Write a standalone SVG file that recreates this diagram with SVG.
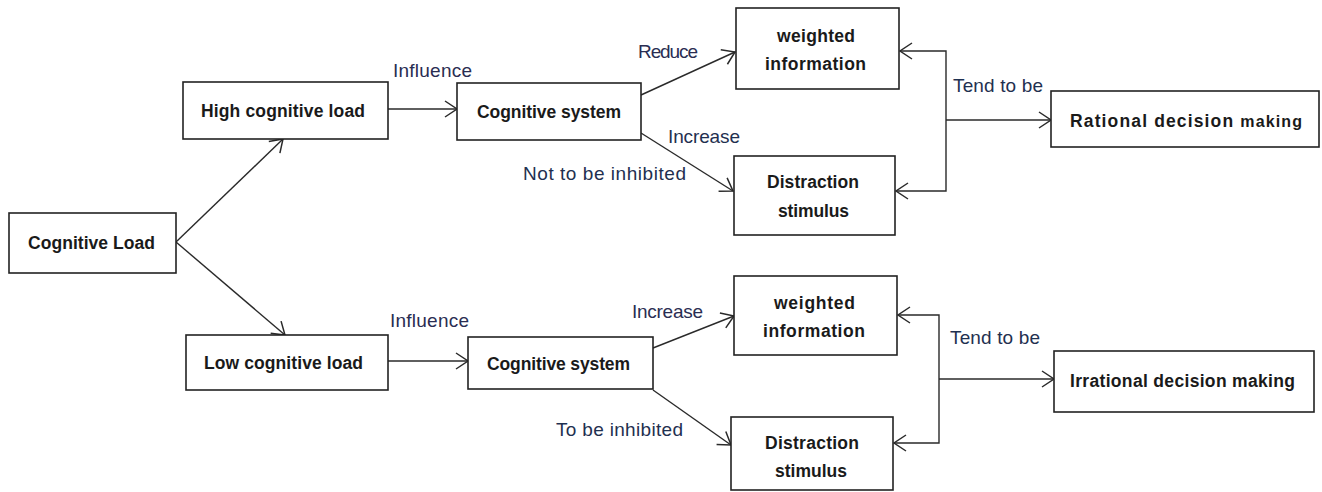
<svg xmlns="http://www.w3.org/2000/svg" width="1322" height="492" viewBox="0 0 1322 492">
<style>
  .box { fill: #ffffff; stroke: #222222; stroke-width: 1.6; }
  .nt { font-family: "Liberation Sans", Arial, sans-serif; font-weight: bold; font-size: 17.5px; fill: #1a1a1a; text-anchor: start; }
  .lb { font-family: "Liberation Sans", Arial, sans-serif; font-size: 19px; fill: #2a2d52; }
  .lb2 { font-family: "Liberation Sans", Arial, sans-serif; font-size: 19px; fill: #1f3050; }
  .cn { fill: none; stroke: #2a2a2a; stroke-width: 1.4; marker-end: url(#arr); }
</style>
<defs>
  <marker id="arr" markerUnits="userSpaceOnUse" markerWidth="16" markerHeight="20" refX="13" refY="9" orient="auto" overflow="visible">
    <path d="M1,1 L13,9 L1,17" fill="none" stroke="#2a2a2a" stroke-width="1.5"/>
  </marker>
</defs>
<rect width="1322" height="492" fill="#ffffff"/>

<g id="connectors">
  <path class="cn" d="M176,242 L283,139"/>
  <path class="cn" d="M176,242 L285,335"/>
  <path class="cn" d="M388,109 L457,109"/>
  <path class="cn" d="M641,95 L735,52"/>
  <path class="cn" d="M641,133 L733,191"/>
  <path class="cn" d="M946,120 V51 H900"/>
  <path class="cn" d="M946,120 V191 H896"/>
  <path class="cn" d="M946,120 H1051"/>
  <path class="cn" d="M388,361 L468,361"/>
  <path class="cn" d="M653,348 L734,316"/>
  <path class="cn" d="M653,390 L731,445"/>
  <path class="cn" d="M939,379 V315 H898"/>
  <path class="cn" d="M939,379 V443 H894"/>
  <path class="cn" d="M939,379 H1054"/>
</g>

<g id="edge-labels">
  <text class="lb" x="393" y="77" textLength="79" lengthAdjust="spacing">Influence</text>
  <text class="lb" x="638" y="58" textLength="60" lengthAdjust="spacing">Reduce</text>
  <text class="lb2" x="668" y="143" textLength="72" lengthAdjust="spacing">Increase</text>
  <text class="lb2" x="523" y="180" textLength="163" lengthAdjust="spacing">Not to be inhibited</text>
  <text class="lb2" x="953" y="92" textLength="90" lengthAdjust="spacing">Tend to be</text>
  <text class="lb" x="390" y="327" textLength="79" lengthAdjust="spacing">Influence</text>
  <text class="lb" x="632" y="318" textLength="71" lengthAdjust="spacing">Increase</text>
  <text class="lb2" x="556" y="436" textLength="127" lengthAdjust="spacing">To be inhibited</text>
  <text class="lb2" x="950" y="344" textLength="90" lengthAdjust="spacing">Tend to be</text>
</g>

<g id="node-cognitive-load">
  <rect class="box" x="9" y="213" width="167" height="60"/>
  <text class="nt" x="28" y="249" textLength="127" lengthAdjust="spacing">Cognitive Load</text>
</g>
<g id="node-high-load">
  <rect class="box" x="183" y="82" width="205" height="57"/>
  <text class="nt" x="201" y="117" textLength="164" lengthAdjust="spacing">High cognitive load</text>
</g>
<g id="node-low-load">
  <rect class="box" x="186" y="335" width="202" height="55"/>
  <text class="nt" x="204" y="369" textLength="159" lengthAdjust="spacing">Low cognitive load</text>
</g>
<g id="node-cog-system-top">
  <rect class="box" x="457" y="83" width="184" height="57"/>
  <text class="nt" x="477" y="118" textLength="144" lengthAdjust="spacing">Cognitive system</text>
</g>
<g id="node-cog-system-bottom">
  <rect class="box" x="468" y="337" width="185" height="52"/>
  <text class="nt" x="487" y="370" textLength="143" lengthAdjust="spacing">Cognitive system</text>
</g>
<g id="node-weighted-top">
  <rect class="box" x="736" y="8" width="163" height="81"/>
  <text class="nt" x="777" y="42" textLength="78" lengthAdjust="spacing">weighted</text>
  <text class="nt" x="765" y="70" textLength="101" lengthAdjust="spacing">information</text>
</g>
<g id="node-distraction-top">
  <rect class="box" x="734" y="156" width="161" height="79"/>
  <text class="nt" x="767" y="188" textLength="92" lengthAdjust="spacing">Distraction</text>
  <text class="nt" x="778" y="217" textLength="71" lengthAdjust="spacing">stimulus</text>
</g>
<g id="node-rational">
  <rect class="box" x="1051" y="91" width="268" height="56"/>
  <text class="nt" x="1070" y="127" font-size="18" textLength="232" lengthAdjust="spacing">Rational  decision <tspan font-size="16">making</tspan></text>
</g>
<g id="node-weighted-bottom">
  <rect class="box" x="734" y="276" width="163" height="79"/>
  <text class="nt" x="774" y="309" textLength="81" lengthAdjust="spacing">weighted</text>
  <text class="nt" x="763" y="337" textLength="102" lengthAdjust="spacing">information</text>
</g>
<g id="node-distraction-bottom">
  <rect class="box" x="731" y="417" width="162" height="73"/>
  <text class="nt" x="765" y="449" textLength="94" lengthAdjust="spacing">Distraction</text>
  <text class="nt" x="775" y="477" textLength="72" lengthAdjust="spacing">stimulus</text>
</g>
<g id="node-irrational">
  <rect class="box" x="1054" y="351" width="260" height="61"/>
  <text class="nt" x="1070" y="387" font-size="18" textLength="225" lengthAdjust="spacing">Irrational decision making</text>
</g>
</svg>
